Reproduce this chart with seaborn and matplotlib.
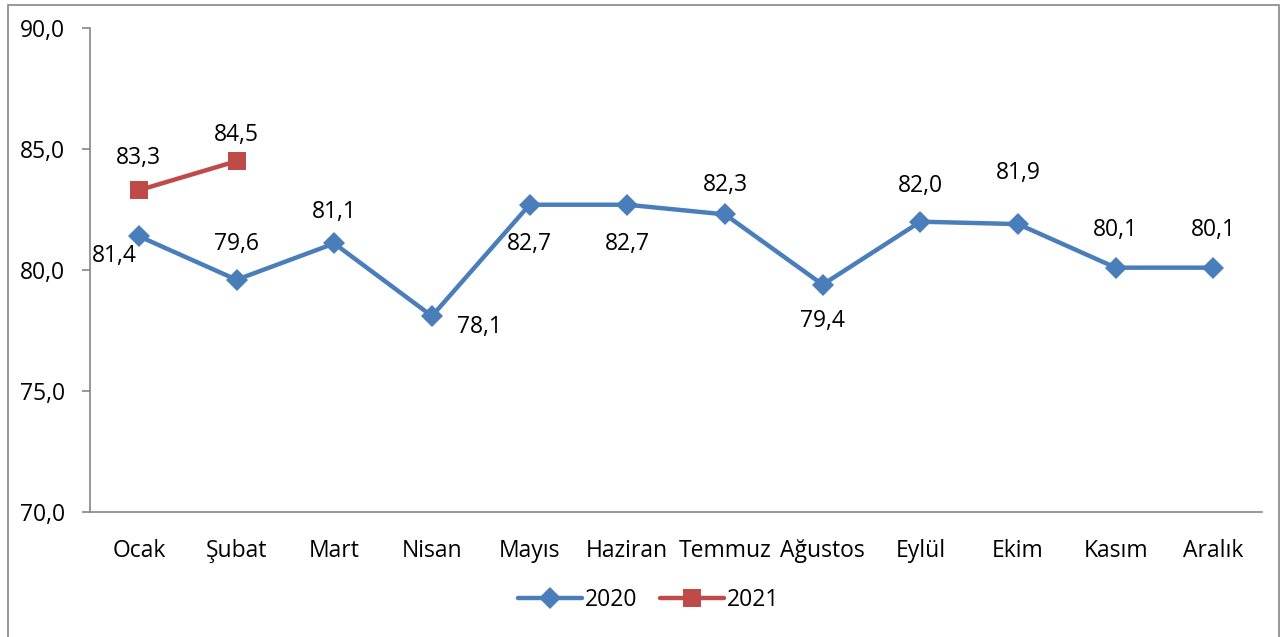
import matplotlib.pyplot as plt
import matplotlib.patches as mpatches
import numpy as np
import pandas as pd
import seaborn as sns

months = ["Ocak", "Şubat", "Mart", "Nisan", "Mayıs", "Haziran", "Temmuz",
          "Ağustos", "Eylül", "Ekim", "Kasım", "Aralık"]
values_2020 = [81.4, 79.6, 81.1, 78.1, 82.7, 82.7, 82.3, 79.4, 82.0, 81.9, 80.1, 80.1]
values_2021 = [83.3, 84.5]
y_ticks = [70.0, 75.0, 80.0, 85.0, 90.0]

# label offsets in points (dx, dy)
offsets_2020 = [(-18, -14), (0, 26), (0, 23), (34, -8), (0, -28), (0, -28),
                (0, 21), (0, -26), (0, 26), (0, 37), (0, 27), (0, 27)]
offsets_2021 = [(0, 23), (0, 19)]

sns.set_style("white")
plt.rcParams['font.family'] = ['Open Sans', 'DejaVu Sans']
plt.rcParams['text.color'] = 'black'
plt.rcParams['xtick.labelcolor'] = 'black'
plt.rcParams['ytick.labelcolor'] = 'black'

df20 = pd.DataFrame({"x": np.arange(len(values_2020)), "y": values_2020, "year": "2020"})
df21 = pd.DataFrame({"x": np.arange(len(values_2021)), "y": values_2021, "year": "2021"})

fig = plt.figure(figsize=(12.84, 6.37), dpi=100)
ax = fig.add_axes([0.0701, 0.196, 0.913, 0.760])

blue = "#4A7EBB"
red = "#BE4B48"
sns.lineplot(data=df20, x="x", y="y", ax=ax, color=blue, linewidth=3.2,
             marker="D", markersize=11, markeredgewidth=0, label="2020")
sns.lineplot(data=df21, x="x", y="y", ax=ax, color=red, linewidth=3.2,
             marker="s", markersize=13, markeredgewidth=0, label="2021")

fs = 16.5
for i, v in enumerate(values_2020):
    ax.annotate(f"{v:.1f}".replace(".", ","), (i, v), xytext=offsets_2020[i],
                textcoords="offset points", ha="center", va="center", fontsize=fs)
for i, v in enumerate(values_2021):
    ax.annotate(f"{v:.1f}".replace(".", ","), (i, v), xytext=offsets_2021[i],
                textcoords="offset points", ha="center", va="center", fontsize=fs)

ax.set_xlim(-0.5, len(months) - 0.5)
ax.set_ylim(70, 90)
ax.set_yticks(y_ticks)
ax.set_yticklabels([f"{t:.1f}".replace(".", ",") for t in y_ticks], fontsize=fs)
ax.set_xticks(np.arange(len(months)))
ax.set_xticklabels(months, fontsize=fs)
ax.set_xticks(np.arange(len(months) + 1) - 0.5, minor=True)
ax.tick_params(axis="x", which="major", length=0, pad=19)
ax.tick_params(axis="x", which="minor", length=5, width=1.2, color="#868686", direction="out")
ax.tick_params(axis="y", length=6, width=1.2, color="#868686", direction="out", pad=12, left=True)
ax.set_xlabel("")
ax.set_ylabel("")

for s in ["top", "right"]:
    ax.spines[s].set_visible(False)
for s in ["left", "bottom"]:
    ax.spines[s].set_color("#868686")
    ax.spines[s].set_linewidth(1.2)

leg = ax.legend(loc="center", bbox_to_anchor=(0.505, 0.058), bbox_transform=fig.transFigure,
                ncol=2, frameon=False, fontsize=fs, handlelength=2.8, columnspacing=1.0,
                handletextpad=0.1)

fig.patches.append(mpatches.Rectangle((0.006, -0.01), 0.99, 1.002, transform=fig.transFigure,
                                      fill=False, edgecolor="#868686", linewidth=1.2))

fig.savefig("out.png", dpi=100)
